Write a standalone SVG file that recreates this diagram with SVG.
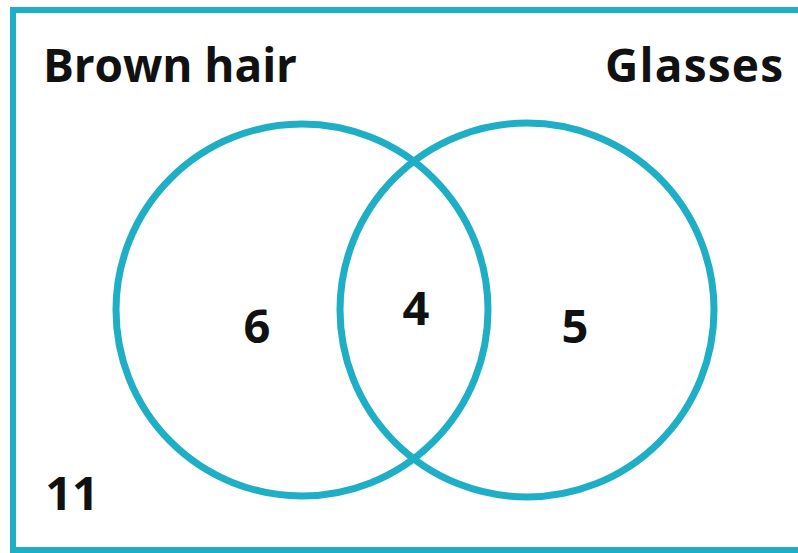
<svg xmlns="http://www.w3.org/2000/svg" width="798" height="553" viewBox="0 0 798 553">
<style>
.frame{fill:none;stroke:#1eaec6;stroke-width:6}
.set{fill:none;stroke:#1eaec6;stroke-width:7}
.lbl{font-family:"Open Sans","Liberation Sans",sans-serif;font-weight:bold;fill:#111;font-size:46px}
.num{font-family:"Open Sans","Liberation Sans",sans-serif;font-weight:bold;fill:#111;font-size:47px;text-anchor:middle}
</style>
<rect width="798" height="553" fill="#fff"/>
<g id="universe">
<rect class="frame" x="13" y="10" width="830" height="540"/>
<text class="lbl" x="43" y="82" textLength="254">Brown hair</text>
<text class="num" x="72" y="510">11</text>
</g>
<g id="brown-hair">
<circle class="set" cx="302" cy="310" r="186"/>
<text class="num" x="257" y="343">6</text>
</g>
<g id="glasses">
<circle class="set" cx="527" cy="310" r="187"/>
<text class="lbl" x="605" y="82" textLength="178">Glasses</text>
<text class="num" x="575" y="343">5</text>
</g>
<g id="both">
<text class="num" x="416" y="325">4</text>
</g>
<g id="connectors"></g>
</svg>
